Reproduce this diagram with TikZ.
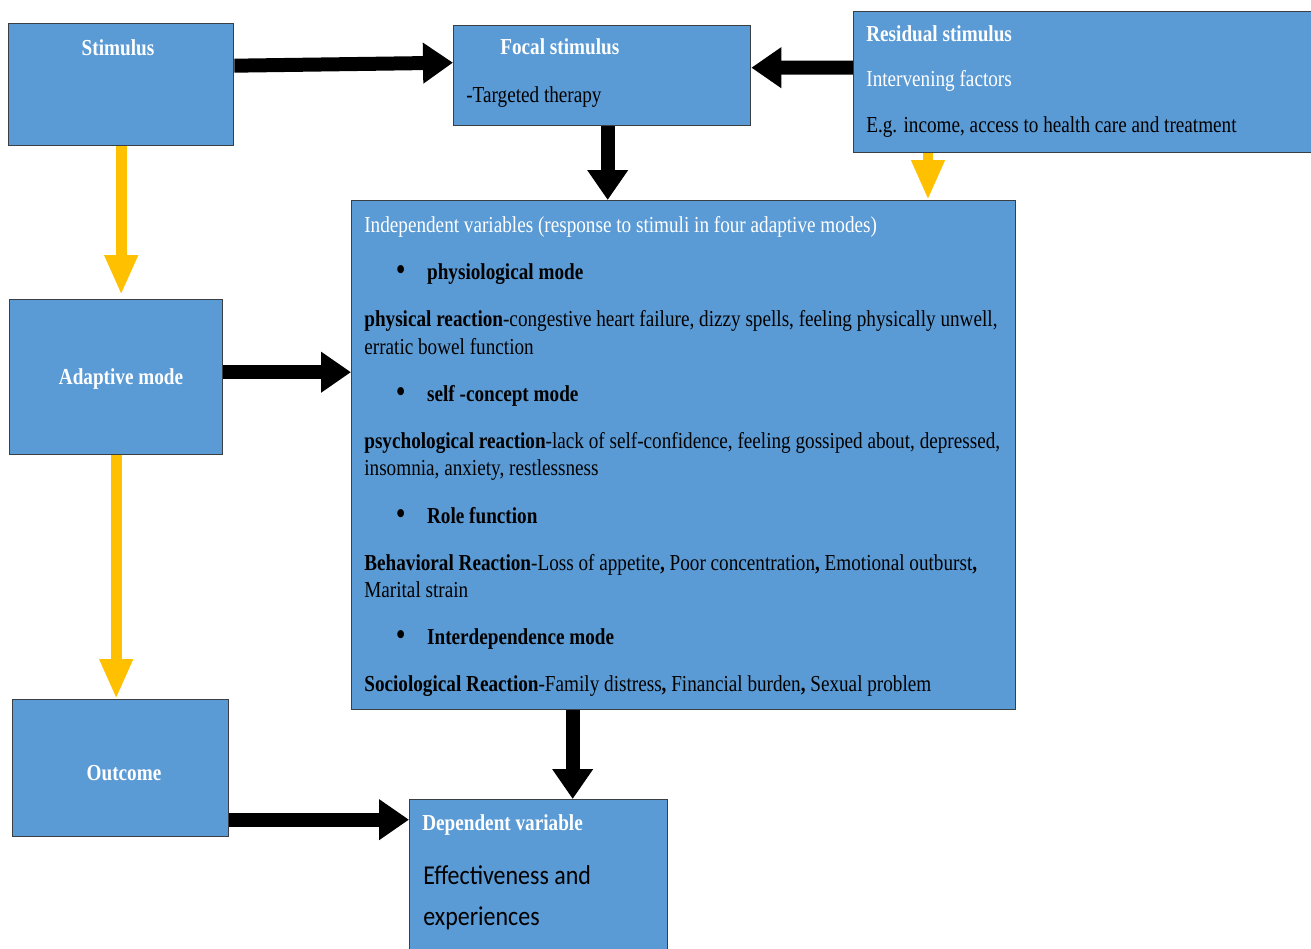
\documentclass[tikz,border=0pt]{standalone}
\usepackage{fontspec}
\setmainfont{Liberation Serif}[FakeStretch=0.84]
\newfontfamily\calfont{Carlito}[FakeStretch=0.88]
\usetikzlibrary{arrows.meta}
\definecolor{boxblue}{HTML}{5B9BD5}
\definecolor{boxline}{HTML}{3A3F44}
\definecolor{flowyellow}{HTML}{FFC000}
\tikzstyle{block} = [draw=boxline, fill=boxblue, line width=0.8pt,
    anchor=north west, inner sep=0pt]
\tikzstyle{heading} = [anchor=base west, inner sep=0pt, text=white,
    font=\fontsize{13}{15.5}\selectfont\bfseries]
\tikzstyle{plain} = [anchor=base west, inner sep=0pt,
    font=\fontsize{13}{15.5}\selectfont]
\tikzstyle{flow} = [draw=black, line width=0.28cm,
    -{Triangle[length=0.6cm, width=0.78cm]}]
\tikzstyle{side} = [draw=flowyellow, line width=0.22cm,
    -{Triangle[length=0.8cm, width=0.62cm]}]
\newcommand\modeitem[1]{\hspace*{0.64cm}{\fontsize{17}{15.5}\selectfont\textbf{\textbullet}}\hspace{0.44cm}\textbf{#1}}
\def\gap{0.4cm}

\begin{document}
\begin{tikzpicture}[x=0.02cm, y=-0.02cm]
    \useasboundingbox (0,0) rectangle (1311,949);

    % boxes
    \node (stim) [block, minimum width=4.5cm, minimum height=2.44cm] at (8,23) {};
    \node (focal) [block, minimum width=5.94cm, minimum height=2cm] at (453,25) {};
    \node (resid) [block, minimum width=9.5cm, minimum height=2.82cm] at (853,11) {};
    \node (indep) [block, minimum width=13.28cm, minimum height=10.18cm] at (351,200) {};
    \node (adapt) [block, minimum width=4.26cm, minimum height=3.1cm] at (9,299) {};
    \node (outc) [block, minimum width=4.32cm, minimum height=2.74cm] at (12,699) {};
    \node (dep) [block, minimum width=5.16cm, minimum height=3.4cm] at (409,799) {};

    % texts
    \node (stimtxt) [heading, anchor=base] at (118,56) {Stimulus};
    \node (focaltxt) [heading] at (500,55) {Focal stimulus};
    \node (focalsub) [plain] at (466,103) {-Targeted therapy};
    \node (residtxt) [heading] at (866,42) {Residual stimulus};
    \node (residsub) [plain, text=white] at (866,87) {Intervening factors};
    \node (residex) [plain] at (866,133) {E.g. income, access to health care and treatment};
    \node (adapttxt) [heading, anchor=base] at (121,384) {Adaptive mode};
    \node (outctxt) [heading, anchor=base] at (124,780) {Outcome};
    \node (deptxt) [heading] at (422,830) {Dependent variable};
    \node (depsub) [anchor=north west, inner sep=0pt, align=left,
        font=\calfont\fontsize{15.5}{23.5}\selectfont] at (423,865)
        {Effectiveness and\\experiences};

    \node (indeptxt) [anchor=north west, inner sep=0pt, align=left,
        font=\fontsize{13}{15.5}\selectfont] at (364,216) {%
        {\color{white}Independent variables (response to stimuli in four adaptive modes)}\\[\gap]
        \modeitem{physiological mode}\\[\gap]
        \textbf{physical reaction}-congestive heart failure, dizzy spells, feeling physically unwell,\\
        erratic bowel function\\[\gap]
        \modeitem{self -concept mode}\\[\gap]
        \textbf{psychological reaction}-lack of self-confidence, feeling gossiped about, depressed,\\
        insomnia, anxiety, restlessness\\[\gap]
        \modeitem{Role function}\\[\gap]
        \textbf{Behavioral Reaction}-Loss of appetite\textbf{,} Poor concentration\textbf{,} Emotional outburst\textbf{,}\\
        Marital strain\\[\gap]
        \modeitem{Interdependence mode}\\[\gap]
        \textbf{Sociological Reaction}-Family distress\textbf{,} Financial burden\textbf{,} Sexual problem};

    % black arrows
    \draw [flow] ([yshift=0.38cm]stim.east) -- ([yshift=0.26cm]focal.west);
    \draw [flow] ([yshift=0.29cm]resid.west) -- ([yshift=0.16cm]focal.east);
    \draw [flow] ([xshift=0.11cm]focal.south) -- ([xshift=0.11cm]focal.south |- indep.north);
    \draw [flow] ([yshift=0.1cm]adapt.east) -- ([yshift=0.1cm]adapt.east -| indep.west);
    \draw [flow] ([xshift=0.68cm]dep.north |- indep.south) -- ([xshift=0.68cm]dep.north);
    \draw [flow] ([yshift=-1.03cm]outc.east) -- ([yshift=-1.03cm]outc.east -| dep.west);

    % yellow arrows
    \draw [side] ([xshift=1.5cm]resid.south west) -- ([xshift=1.5cm]resid.south west |- indep.north);
    \draw [side] (stim.south) -- ([yshift=0.08cm]stim.south |- adapt.north);
    \draw [side] (adapt.south) -- (adapt.south |- outc.north);
\end{tikzpicture}
\end{document}
